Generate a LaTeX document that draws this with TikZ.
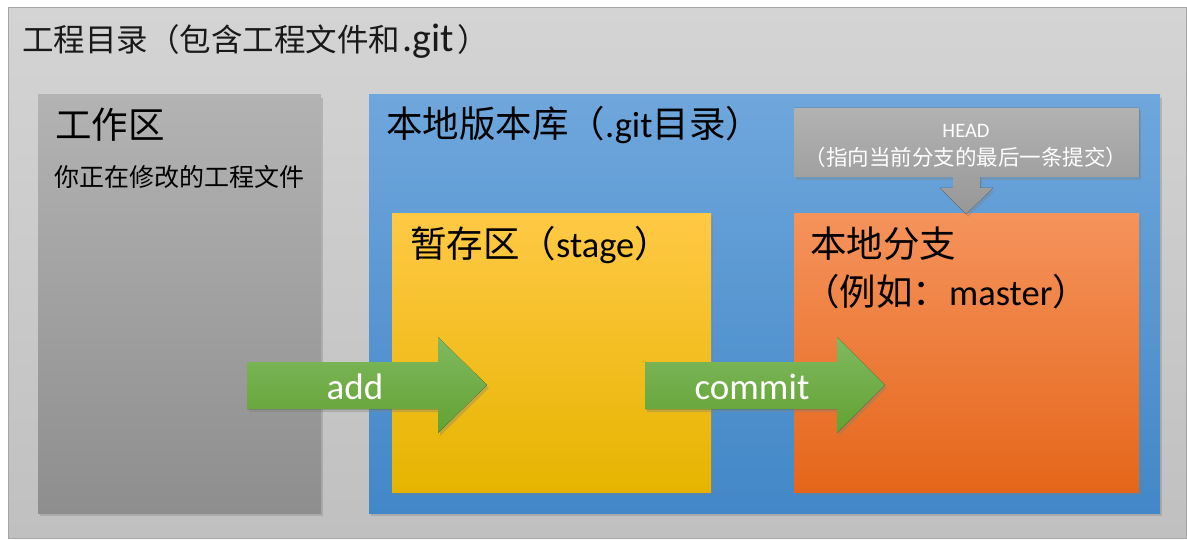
\documentclass[tikz,border=0pt]{standalone}
\usepackage{fontspec}
\setmainfont{Carlito}
\newfontfamily\cjk{Noto Sans CJK SC}
\usetikzlibrary{shadows}
\definecolor{outerT}{HTML}{D4D4D4}
\definecolor{outerB}{HTML}{C0C0C0}
\definecolor{outerL}{HTML}{A6A6A6}
\definecolor{workT}{HTML}{B3B3B3}
\definecolor{workB}{HTML}{8E8E8E}
\definecolor{blueT}{HTML}{6FA7DC}
\definecolor{blueB}{HTML}{4287C7}
\definecolor{yelT}{HTML}{FFC945}
\definecolor{yelB}{HTML}{E6B400}
\definecolor{oraT}{HTML}{F5935C}
\definecolor{oraB}{HTML}{E5661A}
\definecolor{grnT}{HTML}{80B960}
\definecolor{grnB}{HTML}{62A232}
\definecolor{headT}{HTML}{B2B2B2}
\definecolor{headB}{HTML}{979797}
\tikzset{
  boxarea/.style={anchor=north west, inner sep=0pt, outer sep=0pt, draw=none},
  shd/.style={drop shadow={shadow xshift=2pt, shadow yshift=-3pt, opacity=.35}},
  bigtxt/.style={anchor=west, inner sep=0pt, font=\fontsize{36.5}{36.5}\selectfont},
  midtxt/.style={anchor=west, inner sep=0pt, font=\fontsize{25}{25}\selectfont},
  arrowtxt/.style={inner sep=0pt, text=white, font=\fontsize{37}{37}\selectfont},
  greenarrow/.style={top color=grnT, bottom color=grnB, shd},
}
\begin{document}
\begin{tikzpicture}[x=1pt,y=-1pt]
\useasboundingbox (0,0) rectangle (1187,540);
% outer
\node[boxarea, draw=outerL, line width=1pt, top color=outerT, bottom color=outerB,
  minimum width=1178pt, minimum height=530pt] (outer) at (8,8) {};
\node[anchor=west, inner sep=0pt, font=\fontsize{31.5}{31.5}\selectfont, text=black!90] (title) at (22,41)
  {{\cjk 工程目录（包含工程文件和}\kern2pt{\fontsize{40}{40}\selectfont .git}\kern3pt{\cjk ）}};
% work area
\node[boxarea, top color=workT, bottom color=workB, shd,
  minimum width=283pt, minimum height=418pt] (work) at (38,95) {};
\node[bigtxt] (worktitle) at (55,125) {\cjk 工作区};
\node[midtxt] (worksub) at (54,177) {\cjk 你正在修改的工程文件};
% local repo
\node[boxarea, top color=blueT, bottom color=blueB, shd,
  minimum width=791pt, minimum height=418pt] (repo) at (369,95) {};
\node[bigtxt] (repotitle) at (386,125) {{\cjk 本地版本库（}.git{\cjk 目录）}};
% stage
\node[boxarea, top color=yelT, bottom color=yelB, shd,
  minimum width=319pt, minimum height=278pt] (stage) at (392,214) {};
\node[bigtxt] (stagetitle) at (410,245) {{\cjk 暂存区（}stage{\cjk ）}};
% local branch
\node[boxarea, top color=oraT, bottom color=oraB, shd,
  minimum width=345pt, minimum height=278pt] (branch) at (794,214) {};
\node[bigtxt] (branchtitle) at (810,244) {\cjk 本地分支};
\node[bigtxt] (branchsub) at (803,292) {{\cjk （例如：}master{\cjk ）}};
% HEAD callout
\fill[top color=headT, bottom color=headB, shd]
  (794,108) -- (1139,108) -- (1139,177) -- (980,177) -- (980,188) -- (993,188)
  -- (966,214) -- (940,188) -- (953,188) -- (953,177) -- (794,177) -- cycle;
\node[inner sep=0pt, text=white, font=\fontsize{20.5}{20.5}\selectfont] (headname) at (966,131) {HEAD};
\node[inner sep=0pt, text=white, font=\fontsize{21.5}{21.5}\selectfont] (headsub) at (966,157)
  {\cjk （指向当前分支的最后一条提交）};
% add arrow
\fill[greenarrow] (247,362) -- (438,362) -- (438,337) -- (487,385) -- (438,433)
  -- (438,409) -- (247,409) -- cycle;
\node[arrowtxt] (addtxt) at (355,387) {add};
% commit arrow
\fill[greenarrow] (645,362) -- (837,362) -- (837,337) -- (885,385) -- (837,433)
  -- (837,409) -- (645,409) -- cycle;
\node[arrowtxt] (committxt) at (752,387) {commit};
\end{tikzpicture}
\end{document}
